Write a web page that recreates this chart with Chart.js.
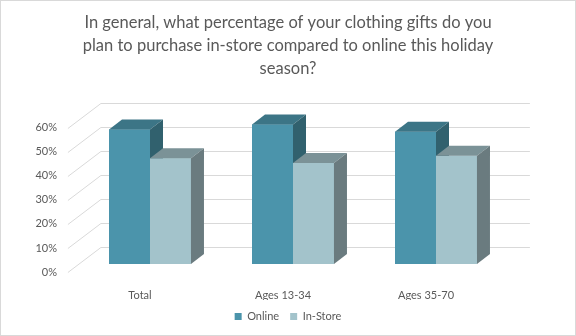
<!DOCTYPE html>
<html>
<head>
<meta charset="utf-8">
<script src="https://cdn.jsdelivr.net/npm/chart.js@4"></script>
<style>
  html, body { margin: 0; padding: 0; background: #ffffff; }
  #wrap { position: relative; width: 576px; height: 336px; }
</style>
</head>
<body>
<div id="wrap"><canvas id="chart" width="576" height="336"></canvas></div>
<script>
const titleLines = [
  "In general, what percentage of your clothing gifts do you",
  "plan to purchase in-store compared to online this holiday",
  "season?",
];
const categories = ["Total", "Ages 13-34", "Ages 35-70"];
const onlineValues = [56, 58, 55];
const inStoreValues = [44, 42, 45];
const yMax = 60;
const yStep = 10;

const TEXT = "#595959";
const GRID = "#d9d9d9";
// depth of the bars and of the floor (front -> back)
const BAR_DX = 13, BAR_DY = -10;
const FRONT_DX = -10.6, FRONT_DY = 8;
const BACK_DX = 22.4, BACK_DY = -17;

const faces = [
  { front: "#4b94ab", top: "#3c7586", side: "#31616e" },
  { front: "#a3c3cb", top: "#7b9297", side: "#6a7b7f" },
];

function poly(ctx, pts, color) {
  ctx.beginPath();
  ctx.moveTo(pts[0][0], pts[0][1]);
  for (let i = 1; i < pts.length; i++) {
    ctx.lineTo(pts[i][0], pts[i][1]);
  }
  ctx.closePath();
  ctx.fillStyle = color;
  ctx.fill();
}

const frame3d = {
  id: "frame3d",
  beforeDraw: function (chart) {
    const ctx = chart.ctx;
    ctx.save();
    ctx.strokeStyle = GRID;
    ctx.lineWidth = 1;
    ctx.strokeRect(0.5, 0.5, chart.width - 1, chart.height - 1);
    ctx.restore();
  },
  beforeDatasetsDraw: function (chart) {
    const ctx = chart.ctx;
    const area = chart.chartArea;
    const y = chart.scales.y;
    ctx.save();
    ctx.strokeStyle = GRID;
    ctx.lineWidth = 1;
    y.ticks.forEach(function (tick) {
      const py = Math.round(y.getPixelForValue(tick.value)) + 0.5;
      ctx.beginPath();
      ctx.moveTo(area.left + FRONT_DX, py + FRONT_DY);
      ctx.lineTo(area.left + BACK_DX, py + BACK_DY);
      ctx.lineTo(area.right + BACK_DX, py + BACK_DY);
      ctx.stroke();
    });
    ctx.restore();
  },
  // redraw each bar front, then its top and side, left to right, so
  // the In-Store front sits over the Online side face
  afterDatasetsDraw: function (chart) {
    const ctx = chart.ctx;
    const metas = [chart.getDatasetMeta(0), chart.getDatasetMeta(1)];
    ctx.save();
    categories.forEach(function (cat, i) {
      metas.forEach(function (meta) {
        const c = faces[meta.index];
        const bar = meta.data[i];
        const p = bar.getProps(["x", "y", "base", "width"], true);
        const l = p.x - p.width / 2;
        const r = p.x + p.width / 2;
        const t = p.y;
        const b = p.base;
        bar.draw(ctx);
        poly(ctx, [[l, t], [l + BAR_DX, t + BAR_DY], [r + BAR_DX, t + BAR_DY], [r, t]], c.top);
        poly(ctx, [[r, t], [r + BAR_DX, t + BAR_DY], [r + BAR_DX, b + BAR_DY], [r, b]], c.side);
      });
    });
    ctx.restore();
  },
};

const fontFamily = "Lato, 'Open Sans', sans-serif";

new Chart(document.getElementById("chart"), {
  type: "bar",
  data: {
    labels: categories,
    datasets: [
      {
        label: "Online",
        data: onlineValues,
        backgroundColor: faces[0].front,
      },
      {
        label: "In-Store",
        data: inStoreValues,
        backgroundColor: faces[1].front,
      },
    ],
  },
  options: {
    responsive: false,
    animation: false,
    barPercentage: 1,
    categoryPercentage: 0.573,
    layout: { padding: { left: 0, right: 0, top: 0, bottom: 4 } },
    scales: {
      x: {
        grid: { display: false },
        border: { display: false },
        ticks: {
          color: TEXT,
          font: { family: fontFamily, size: 11 },
          labelOffset: -10,
          padding: 17,
          maxRotation: 0,
        },
        afterFit: function (scale) {
          scale.height = 36;
        },
      },
      y: {
        min: 0,
        max: yMax,
        grid: { display: false, drawTicks: false },
        border: { display: false },
        ticks: {
          stepSize: yStep,
          color: TEXT,
          font: { family: fontFamily, size: 11 },
          padding: 21.5,
          labelOffset: 8,
          callback: function (v) {
            return v + "%";
          },
        },
        afterFit: function (scale) {
          scale.width = 78.5;
        },
      },
      spare: {
        position: "right",
        display: true,
        grid: { display: false },
        border: { display: false },
        ticks: { display: false },
        afterFit: function (scale) {
          scale.width = 68.5;
        },
      },
    },
    plugins: {
      title: {
        display: true,
        text: titleLines,
        color: TEXT,
        font: { family: fontFamily, size: 16.5, weight: "normal", lineHeight: 1.39 },
        padding: { top: 11, bottom: 40 },
      },
      legend: {
        position: "bottom",
        labels: {
          color: TEXT,
          font: { family: fontFamily, size: 11 },
          boxWidth: 7,
          boxHeight: 7,
          padding: 11,
        },
      },
      tooltip: { enabled: false },
    },
  },
  plugins: [frame3d],
});
</script>
</body>
</html>
